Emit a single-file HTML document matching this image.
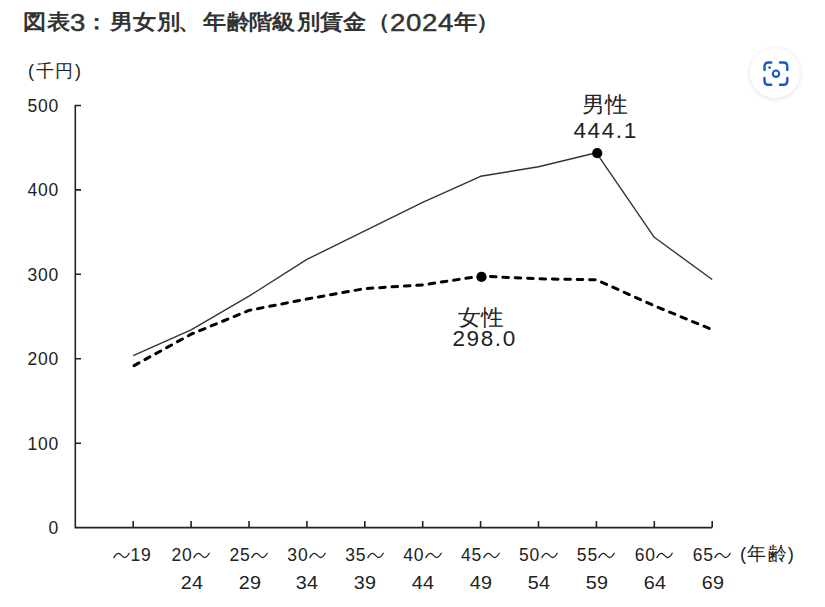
<!DOCTYPE html>
<html lang="ja">
<head>
<meta charset="utf-8">
<style>
html,body{margin:0;padding:0;background:#fff;}
body{width:825px;height:607px;position:relative;overflow:hidden;font-family:"Liberation Sans",sans-serif;color:#222;}
.t{position:absolute;white-space:nowrap;line-height:1;}
.tt{font-weight:bold;color:#333;transform-origin:0 0;}
.tc{top:12px;font-size:22px;transform:scale(1.05,0.95);}
.td{top:12px;font-size:23px;font-weight:normal;-webkit-text-stroke:0.45px #333;transform:scaleX(1.2);}
.lab{font-size:17.5px;color:#222;letter-spacing:0.8px;}
.yl{width:40px;text-align:right;left:19px;}
.xl{width:80px;text-align:center;}
.tl{display:inline-block;vertical-align:baseline;margin:0 0.5px;position:relative;top:-1px;}
#chart{position:absolute;left:0;top:0;}
#lens{position:absolute;left:750px;top:48px;width:50px;height:50px;border-radius:50%;background:#fff;box-shadow:0 1px 5px rgba(0,0,0,0.13);}
#lens svg{position:absolute;left:0;top:0;}
</style>
</head>
<body>
<div class="t tt tc" style="left:22.9px;">図</div><div class="t tt tc" style="left:46.5px;">表</div><div class="t tt td" style="left:69.7px;">3</div><div class="t tt tc" style="left:85.0px;">：</div><div class="t tt tc" style="left:109.5px;">男</div><div class="t tt tc" style="left:132.7px;">女</div><div class="t tt tc" style="left:156.5px;">別</div><div class="t tt tc" style="left:178.1px;">、</div><div class="t tt tc" style="left:203.2px;">年</div><div class="t tt tc" style="left:226.5px;">齢</div><div class="t tt tc" style="left:249.2px;">階</div><div class="t tt tc" style="left:272.4px;">級</div><div class="t tt tc" style="left:297.3px;">別</div><div class="t tt tc" style="left:320.3px;">賃</div><div class="t tt tc" style="left:343.3px;">金</div><div class="t tt tc" style="left:366.8px;">（</div><div class="t tt td" style="left:389.6px;">2</div><div class="t tt td" style="left:406.4px;">0</div><div class="t tt td" style="left:422.4px;">2</div><div class="t tt td" style="left:437.5px;">4</div><div class="t tt tc" style="left:454.2px;">年</div><div class="t tt tc" style="left:475.9px;">）</div>
<div class="t lab" style="left:28px;top:62px;font-size:18px;letter-spacing:1.7px;">(千円)</div>
<div class="t lab yl" style="top:98.0px;">500</div>
<div class="t lab yl" style="top:182.4px;">400</div>
<div class="t lab yl" style="top:266.8px;">300</div>
<div class="t lab yl" style="top:351.3px;">200</div>
<div class="t lab yl" style="top:435.7px;">100</div>
<div class="t lab yl" style="top:520.1px;">0</div>

<svg id="chart" width="825" height="607" viewBox="0 0 825 607">
  <g stroke="#222" stroke-width="1.6" fill="none">
    <path d="M81 105.5 H75.3 V527.6 H712.2"/>
    <path d="M75.3 189.9 H81 M75.3 274.3 H81 M75.3 358.8 H81 M75.3 443.2 H81"/>
    <path d="M133.2 527.6 V521 M191.1 527.6 V521 M249.0 527.6 V521 M306.9 527.6 V521 M364.8 527.6 V521 M422.7 527.6 V521 M480.6 527.6 V521 M538.5 527.6 V521 M596.4 527.6 V521 M654.3 527.6 V521 M712.2 527.6 V521"/>
  </g>
  <path d="M133.2 355.6 L191.1 329.9 L249.0 296.2 L306.9 259.4 L364.8 230.8 L422.7 202.4 L480.6 176.3 L538.5 166.8 L596.4 152.8 L654.3 237.3 L712.2 279.5" stroke="#333" stroke-width="1.4" fill="none" stroke-linejoin="round"/>
  <path d="M133.2 366.1 L191.1 334.2 L249.0 310.4 L306.9 299.0 L364.8 288.6 L422.7 284.9 L480.6 276.1 L538.5 278.8 L596.4 279.8 L654.3 305.8 L712.2 329.6" stroke="#000" stroke-width="3" fill="none" stroke-dasharray="5.6 6.8" stroke-dashoffset="-1" stroke-linecap="round" stroke-linejoin="round"/>
  <circle cx="597.2" cy="153.2" r="5.1" fill="#000"/>
  <circle cx="481.5" cy="276.9" r="5.1" fill="#000"/>
</svg>

<div class="t lab" style="left:582px;top:94px;font-size:22px;letter-spacing:0px;transform:scaleX(1.04);transform-origin:0 0;">男性</div>
<div class="t lab" style="left:573.5px;top:120px;font-size:22.5px;letter-spacing:1.6px;">444.1</div>
<div class="t lab" style="left:458px;top:306.5px;font-size:22px;letter-spacing:0px;transform:scaleX(1.03);transform-origin:0 0;">女性</div>
<div class="t lab" style="left:452.5px;top:328px;font-size:22.5px;letter-spacing:1.6px;">298.0</div>
<div class="t lab xl" style="left:92.0px;top:547px;"><svg class="tl" width="17" height="9" viewBox="0 0 17 9"><path d="M0.9 6.6 C2.4 3.6 3.9 2.3 5.6 2.3 C7.6 2.3 9.4 6.5 11.4 6.5 C13.1 6.5 14.6 5.1 16.2 2.3" stroke="#222" stroke-width="1.3" fill="none" stroke-linecap="round"/></svg>19</div>
<div class="t lab xl" style="left:151.1px;top:547px;">20<svg class="tl" width="17" height="9" viewBox="0 0 17 9"><path d="M0.9 6.6 C2.4 3.6 3.9 2.3 5.6 2.3 C7.6 2.3 9.4 6.5 11.4 6.5 C13.1 6.5 14.6 5.1 16.2 2.3" stroke="#222" stroke-width="1.3" fill="none" stroke-linecap="round"/></svg></div>
<div class="t lab xl" style="left:151.6px;top:575px;letter-spacing:0.3px;transform:scaleX(1.13);">24</div>
<div class="t lab xl" style="left:209.0px;top:547px;">25<svg class="tl" width="17" height="9" viewBox="0 0 17 9"><path d="M0.9 6.6 C2.4 3.6 3.9 2.3 5.6 2.3 C7.6 2.3 9.4 6.5 11.4 6.5 C13.1 6.5 14.6 5.1 16.2 2.3" stroke="#222" stroke-width="1.3" fill="none" stroke-linecap="round"/></svg></div>
<div class="t lab xl" style="left:209.5px;top:575px;letter-spacing:0.3px;transform:scaleX(1.13);">29</div>
<div class="t lab xl" style="left:266.9px;top:547px;">30<svg class="tl" width="17" height="9" viewBox="0 0 17 9"><path d="M0.9 6.6 C2.4 3.6 3.9 2.3 5.6 2.3 C7.6 2.3 9.4 6.5 11.4 6.5 C13.1 6.5 14.6 5.1 16.2 2.3" stroke="#222" stroke-width="1.3" fill="none" stroke-linecap="round"/></svg></div>
<div class="t lab xl" style="left:267.4px;top:575px;letter-spacing:0.3px;transform:scaleX(1.13);">34</div>
<div class="t lab xl" style="left:324.8px;top:547px;">35<svg class="tl" width="17" height="9" viewBox="0 0 17 9"><path d="M0.9 6.6 C2.4 3.6 3.9 2.3 5.6 2.3 C7.6 2.3 9.4 6.5 11.4 6.5 C13.1 6.5 14.6 5.1 16.2 2.3" stroke="#222" stroke-width="1.3" fill="none" stroke-linecap="round"/></svg></div>
<div class="t lab xl" style="left:325.3px;top:575px;letter-spacing:0.3px;transform:scaleX(1.13);">39</div>
<div class="t lab xl" style="left:382.7px;top:547px;">40<svg class="tl" width="17" height="9" viewBox="0 0 17 9"><path d="M0.9 6.6 C2.4 3.6 3.9 2.3 5.6 2.3 C7.6 2.3 9.4 6.5 11.4 6.5 C13.1 6.5 14.6 5.1 16.2 2.3" stroke="#222" stroke-width="1.3" fill="none" stroke-linecap="round"/></svg></div>
<div class="t lab xl" style="left:383.2px;top:575px;letter-spacing:0.3px;transform:scaleX(1.13);">44</div>
<div class="t lab xl" style="left:440.6px;top:547px;">45<svg class="tl" width="17" height="9" viewBox="0 0 17 9"><path d="M0.9 6.6 C2.4 3.6 3.9 2.3 5.6 2.3 C7.6 2.3 9.4 6.5 11.4 6.5 C13.1 6.5 14.6 5.1 16.2 2.3" stroke="#222" stroke-width="1.3" fill="none" stroke-linecap="round"/></svg></div>
<div class="t lab xl" style="left:441.1px;top:575px;letter-spacing:0.3px;transform:scaleX(1.13);">49</div>
<div class="t lab xl" style="left:498.5px;top:547px;">50<svg class="tl" width="17" height="9" viewBox="0 0 17 9"><path d="M0.9 6.6 C2.4 3.6 3.9 2.3 5.6 2.3 C7.6 2.3 9.4 6.5 11.4 6.5 C13.1 6.5 14.6 5.1 16.2 2.3" stroke="#222" stroke-width="1.3" fill="none" stroke-linecap="round"/></svg></div>
<div class="t lab xl" style="left:499.0px;top:575px;letter-spacing:0.3px;transform:scaleX(1.13);">54</div>
<div class="t lab xl" style="left:556.4px;top:547px;">55<svg class="tl" width="17" height="9" viewBox="0 0 17 9"><path d="M0.9 6.6 C2.4 3.6 3.9 2.3 5.6 2.3 C7.6 2.3 9.4 6.5 11.4 6.5 C13.1 6.5 14.6 5.1 16.2 2.3" stroke="#222" stroke-width="1.3" fill="none" stroke-linecap="round"/></svg></div>
<div class="t lab xl" style="left:556.9px;top:575px;letter-spacing:0.3px;transform:scaleX(1.13);">59</div>
<div class="t lab xl" style="left:614.3px;top:547px;">60<svg class="tl" width="17" height="9" viewBox="0 0 17 9"><path d="M0.9 6.6 C2.4 3.6 3.9 2.3 5.6 2.3 C7.6 2.3 9.4 6.5 11.4 6.5 C13.1 6.5 14.6 5.1 16.2 2.3" stroke="#222" stroke-width="1.3" fill="none" stroke-linecap="round"/></svg></div>
<div class="t lab xl" style="left:614.8px;top:575px;letter-spacing:0.3px;transform:scaleX(1.13);">64</div>
<div class="t lab xl" style="left:672.2px;top:547px;">65<svg class="tl" width="17" height="9" viewBox="0 0 17 9"><path d="M0.9 6.6 C2.4 3.6 3.9 2.3 5.6 2.3 C7.6 2.3 9.4 6.5 11.4 6.5 C13.1 6.5 14.6 5.1 16.2 2.3" stroke="#222" stroke-width="1.3" fill="none" stroke-linecap="round"/></svg></div>
<div class="t lab xl" style="left:672.7px;top:575px;letter-spacing:0.3px;transform:scaleX(1.13);">69</div>

<div class="t lab" style="left:740px;top:545px;font-size:18.5px;letter-spacing:1.2px;">(年齢)</div>

<div id="lens">
<svg width="50" height="50" viewBox="0 0 50 50">
  <g stroke="#145bc2" stroke-width="2.4" fill="none" stroke-linecap="round" transform="translate(0.2 0.5)">
    <path d="M14.3 21.4 V18 Q14.3 14 18.3 14 H21.1"/>
    <path d="M29.8 14 H33.1 Q37.1 14 37.1 18 V21.4"/>
    <path d="M37.1 29.5 V32.3 Q37.1 36.3 33.1 36.3 H29.8"/>
    <path d="M21.1 36.3 H18.3 Q14.3 36.3 14.3 32.3 V29.5"/>
    <circle cx="25.8" cy="25.2" r="3.2" stroke-width="2.1"/>
  </g>
  <circle cx="19.6" cy="19.6" r="1.3" fill="#145bc2"/>
</svg>
</div>
</body>
</html>
